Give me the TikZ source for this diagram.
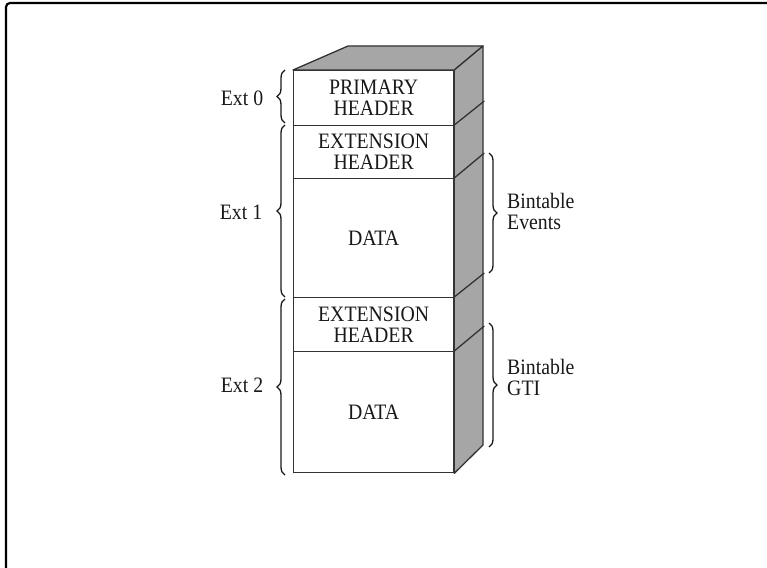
\documentclass[tikz,border=0pt]{standalone}
\usepackage{fontspec}
\setmainfont[FakeStretch=0.9]{Liberation Serif}
\usetikzlibrary{decorations.pathreplacing}
\begin{document}
\begin{tikzpicture}[x=1pt,y=-1pt,
  sec/.style={draw=black!80, line width=1.3pt, fill=white, minimum width=160pt, anchor=north west,
    font=\fontsize{22}{21}\selectfont, align=center, inner sep=0pt, text=black!90},
  sideface/.style={draw=black!80, line width=1.3pt, line join=round, fill=black!35},
  sepline/.style={draw=black!80, line width=1.3pt},
  lbl/.style={font=\fontsize{22}{21}\selectfont, align=left, inner sep=0pt, text=black!90},
  brc/.style={decorate, decoration={brace, amplitude=8pt}, line width=1.3pt, draw=black!90}]
\useasboundingbox (0,0) rectangle (767,567);
\draw[line width=2.2pt, rounded corners=4pt] (6,570) -- (6,3) -- (770,3);
% front sections
\node[sec, minimum height=55pt] (ph) at (293,70) {PRIMARY\\HEADER};
\node[sec, minimum height=53pt] (eh1) at (293,125) {EXTENSION\\HEADER};
\node[sec, minimum height=119pt] (d1) at (293,178) {DATA};
\node[sec, minimum height=54pt] (eh2) at (293,297) {EXTENSION\\HEADER};
\node[sec, minimum height=121pt] (d2) at (293,351) {DATA};
% back corners
\coordinate (tbl) at (348,46);
\coordinate (tbr) at (483,46);
\coordinate (bbr) at (483,445);
% top face and side face
\draw[sideface] (ph.north west) -- (tbl) -- (tbr) -- (ph.north east) -- cycle;
\draw[sideface] (ph.north east) -- (tbr) -- (bbr) -- (d2.south east) -- cycle;
\draw[sepline] (eh1.north east) -- ++(30,-24);
\draw[sepline] (d1.north east) -- ++(30,-25);
\draw[sepline] (eh2.north east) -- ++(30,-24);
\draw[sepline] (d2.north east) -- ++(30,-25);
% left braces and labels
\coordinate (b0a) at (285,123); \coordinate (b0b) at (285,70);
\coordinate (b1a) at (285,297); \coordinate (b1b) at (285,125);
\coordinate (b2a) at (285,475); \coordinate (b2b) at (285,299);
\draw[brc] (b0a) -- (b0b);
\draw[brc] (b1a) -- (b1b);
\draw[brc] (b2a) -- (b2b);
\node[lbl] (e0) at (242,98) {Ext 0};
\node[lbl] (e1) at (241,212) {Ext 1};
\node[lbl] (e2) at (242,385) {Ext 2};
% right braces and labels
\coordinate (r1a) at (489,153); \coordinate (r1b) at (489,273);
\coordinate (r2a) at (489,323); \coordinate (r2b) at (489,447);
\draw[brc] (r1a) -- (r1b);
\draw[brc] (r2a) -- (r2b);
\node[lbl, anchor=west] (bev) at (507,211) {Bintable\\Events};
\node[lbl, anchor=west] (bgti) at (507,377) {Bintable\\GTI};
\end{tikzpicture}
\end{document}
